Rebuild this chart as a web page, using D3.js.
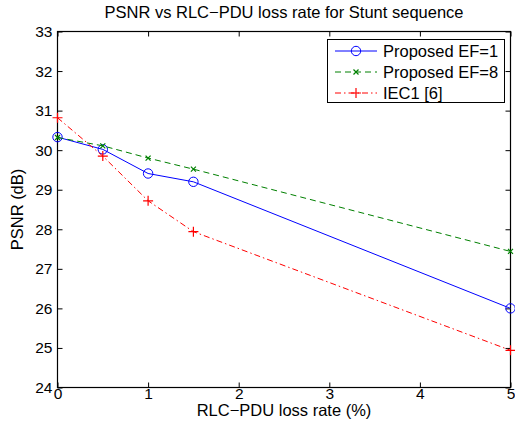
<!DOCTYPE html>
<html>
<head>
<meta charset="UTF-8">
<script src="https://d3js.org/d3.v7.min.js"></script>
<style>
  body { margin: 0; background: #fff; }
  text { font-family: "Liberation Sans", Arial, sans-serif; fill: #000; }
</style>
</head>
<body>
<div id="chart"></div>
<script>
const lossRate = [0, 0.5, 1, 1.5, 5];
const ef1 = [30.33, 30.02, 29.41, 29.2, 26.0];
const ef8 = [30.32, 30.11, 29.8, 29.52, 27.44];
const iec1 = [30.82, 29.85, 28.72, 27.94, 24.94];
const seriesNames = ["Proposed EF=1", "Proposed EF=8", "IEC1 [6]"];
const xTicks = [0, 1, 2, 3, 4, 5];
const yTicks = [24, 25, 26, 27, 28, 29, 30, 31, 32, 33];

const width = 515, height = 432;
const m = {left: 57.5, right: 4.5, top: 31.5, bottom: 44.5};
const fs = "16.5px";

const svg = d3.select("#chart").append("svg")
  .attr("width", width).attr("height", height);

const x = d3.scaleLinear().domain([0, 5]).range([m.left, width - m.right]);
const y = d3.scaleLinear().domain([24, 33]).range([height - m.bottom, m.top]);

// axes (MATLAB style, ticks inward, mirrored)
svg.append("g")
  .attr("transform", `translate(0,${height - m.bottom})`)
  .call(d3.axisBottom(x).tickValues(xTicks).tickSize(-5).tickPadding(0).tickFormat(d3.format("d")))
  .call(g => g.select(".domain").remove());
svg.append("g")
  .attr("transform", `translate(0,${m.top})`)
  .call(d3.axisTop(x).tickValues(xTicks).tickSize(-5).tickFormat(""))
  .call(g => g.select(".domain").remove());
svg.append("g")
  .attr("transform", `translate(${m.left},0)`)
  .call(d3.axisLeft(y).tickValues(yTicks).tickSize(-5).tickPadding(5).tickFormat(d3.format("d")))
  .call(g => g.select(".domain").remove());
svg.append("g")
  .attr("transform", `translate(${width - m.right},0)`)
  .call(d3.axisRight(y).tickValues(yTicks).tickSize(-5).tickFormat(""))
  .call(g => g.select(".domain").remove());

svg.selectAll(".tick text").style("font-size", "15.5px").attr("font-family", null);
svg.selectAll(".tick line").attr("stroke", "#000");

svg.append("rect")
  .attr("x", m.left).attr("y", m.top)
  .attr("width", width - m.left - m.right)
  .attr("height", height - m.top - m.bottom)
  .attr("fill", "none").attr("stroke", "#000").attr("stroke-width", 1.2);

const series = [
  {name: seriesNames[0], values: ef1, color: "#0000ff", dash: null, marker: "o"},
  {name: seriesNames[1], values: ef8, color: "#008000", dash: "6,4", marker: "x"},
  {name: seriesNames[2], values: iec1, color: "#ff0000", dash: "6,3,1.5,3", marker: "+"}
];

function drawMarker(g, type, cx, cy, color) {
  if (type === "o") {
    g.append("circle").attr("cx", cx).attr("cy", cy).attr("r", 4.7)
      .attr("fill", "none").attr("stroke", color).attr("stroke-width", 1);
  } else if (type === "+") {
    g.append("path").attr("d", `M${cx - 5},${cy}H${cx + 5}M${cx},${cy - 5}V${cy + 5}`)
      .attr("stroke", color).attr("stroke-width", 1.2);
  } else {
    g.append("path").attr("d", `M${cx - 2.5},${cy - 2.5}L${cx + 2.5},${cy + 2.5}M${cx - 2.5},${cy + 2.5}L${cx + 2.5},${cy - 2.5}`)
      .attr("stroke", color).attr("stroke-width", 1.2);
  }
}

const line = d3.line().x((d, i) => x(lossRate[i])).y(d => y(d));

series.forEach(s => {
  const g = svg.append("g");
  g.append("path").attr("d", line(s.values))
    .attr("fill", "none").attr("stroke", s.color).attr("stroke-width", 1)
    .attr("stroke-dasharray", s.dash);
  s.values.forEach((v, i) => drawMarker(g, s.marker, x(lossRate[i]), y(v), s.color));
});

// legend
const lg = svg.append("g");
lg.append("rect").attr("x", 327.5).attr("y", 39.5).attr("width", 177).attr("height", 63)
  .attr("fill", "#fff").attr("stroke", "#000").attr("stroke-width", 1);
series.forEach((s, i) => {
  const ly = 51 + i * 21;
  lg.append("path").attr("d", `M335,${ly}H377`)
    .attr("stroke", s.color).attr("stroke-width", 1).attr("stroke-dasharray", s.dash);
  drawMarker(lg, s.marker, 356, ly, s.color);
  lg.append("text").attr("x", 383).attr("y", ly + 6).style("font-size", fs).text(s.name);
});

// labels
svg.append("text").attr("x", (m.left + width - m.right) / 2).attr("y", 18)
  .attr("text-anchor", "middle").style("font-size", fs)
  .text("PSNR vs RLC\u2212PDU loss rate for Stunt sequence");
svg.append("text").attr("x", (m.left + width - m.right) / 2).attr("y", 416)
  .attr("text-anchor", "middle").style("font-size", fs)
  .text("RLC\u2212PDU loss rate (%)");
svg.append("text")
  .attr("transform", `translate(23,${(m.top + height - m.bottom) / 2}) rotate(-90)`)
  .attr("text-anchor", "middle").style("font-size", fs)
  .text("PSNR (dB)");
</script>
</body>
</html>
